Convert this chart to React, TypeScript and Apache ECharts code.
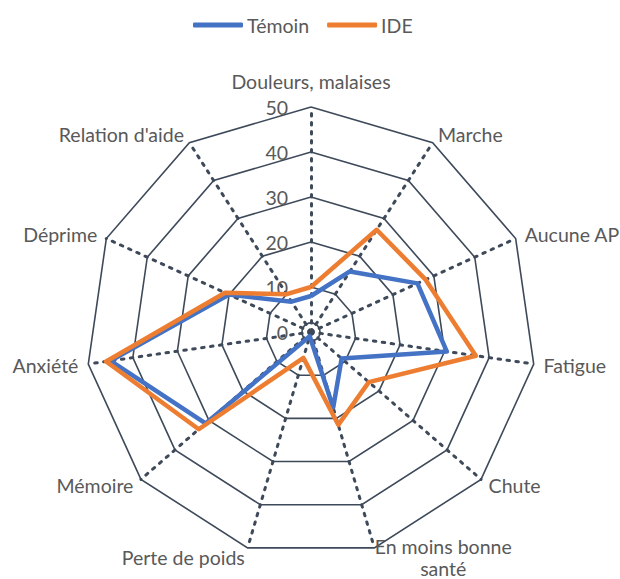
import React, { useEffect, useRef } from "react";
import * as echarts from "echarts";

// Clockwise order as read in the reference, starting at the top
const categories = [
  "Douleurs, malaises",
  "Marche",
  "Aucune AP",
  "Fatigue",
  "Chute",
  "En moins bonne santé",
  "Perte de poids",
  "Mémoire",
  "Anxiété",
  "Déprime",
  "Relation d'aide",
];
const temoinValues = [8, 16, 26, 30.5, 9, 17.5, 1, 31, 45, 20, 8];
const ideValues = [10, 27, 28, 37, 17, 21.5, 6, 33, 46, 21, 10];
const seriesNames = ["Témoin", "IDE"];
const seriesColors = ["#4472C4", "#ED7D31"];
const axisMax = 50;
const axisSplits = 5;

// ECharts places radar indicators counter-clockwise; reorder so they read clockwise
const toCCW = <T,>(arr: T[]): T[] => [arr[0], ...arr.slice(1).reverse()];

const W = 620;
const H = 579;
const CX = 311;
const CY = 332;
const R = 225;
const GRID = "#3E4A5A";
const TXT = "#595959";
const FONT = "Lato, 'Noto Sans', sans-serif";
const FS = 19.5;

export default function App() {
  const ref = useRef<HTMLDivElement>(null);
  useEffect(() => {
    if (!ref.current) return;
    const chart = echarts.init(ref.current, undefined, { renderer: "svg" });
    const cats = toCCW(categories);
    chart.setOption({
      animation: false,
      textStyle: { fontFamily: FONT },
      legend: {
        top: 10,
        left: 188,
        data: seriesNames,
        icon: "roundRect",
        itemWidth: 50,
        itemHeight: 5,
        itemGap: 18,
        textStyle: { color: TXT, fontSize: FS, fontFamily: FONT, padding: [0, 0, 0, -1] },
      },
      radar: {
        center: [CX, CY],
        radius: R,
        shape: "polygon",
        splitNumber: axisSplits,
        startAngle: 90,
        axisName: {
          color: TXT,
          fontSize: FS,
          fontFamily: FONT,
          formatter: (name: string) => {
            if (name === "En moins bonne santé") return "{c|En moins bonne}\n{c|santé}";
            if (name === categories[0]) return "{t|" + name + "}";
            return name;
          },
          rich: {
            c: {
              width: 132,
              align: "center",
              color: TXT,
              fontSize: FS,
              fontFamily: FONT,
              lineHeight: 22,
            },
            t: {
              color: TXT,
              fontSize: FS,
              fontFamily: FONT,
              padding: [0, 0, 6, 0],
            },
          },
        },
        nameGap: 10,
        splitArea: { show: false },
        splitLine: { lineStyle: { color: GRID, width: 1.6 } },
        axisLine: { lineStyle: { color: GRID, width: 3, type: [2.5, 6.5] } },
        axisTick: { show: false },
        axisLabel: { show: false },
        indicator: cats.map((name, i) =>
          i === 0
            ? {
                name,
                min: 0,
                max: axisMax,
                axisLabel: {
                  show: true,
                  color: TXT,
                  fontSize: FS,
                  fontFamily: FONT,
                  margin: 23,
                  align: "right",
                },
              }
            : { name, min: 0, max: axisMax }
        ),
      },
      graphic: [
        {
          type: "circle",
          shape: { cx: CX, cy: CY, r: 9 },
          style: { fill: "none", stroke: GRID, lineWidth: 1.6 },
          silent: true,
        },
      ],
      series: [
        {
          type: "radar",
          symbol: "none",
          data: [
            {
              name: seriesNames[0],
              value: toCCW(temoinValues),
              lineStyle: { color: seriesColors[0], width: 4.5 },
              itemStyle: { color: seriesColors[0] },
            },
            {
              name: seriesNames[1],
              value: toCCW(ideValues),
              lineStyle: { color: seriesColors[1], width: 4.5 },
              itemStyle: { color: seriesColors[1] },
            },
          ],
        },
      ],
    });
    return () => chart.dispose();
  }, []);
  return (
    <div
      ref={ref}
      style={{ position: "fixed", left: 0, top: 0, width: W, height: H, background: "#fff" }}
    />
  );
}
